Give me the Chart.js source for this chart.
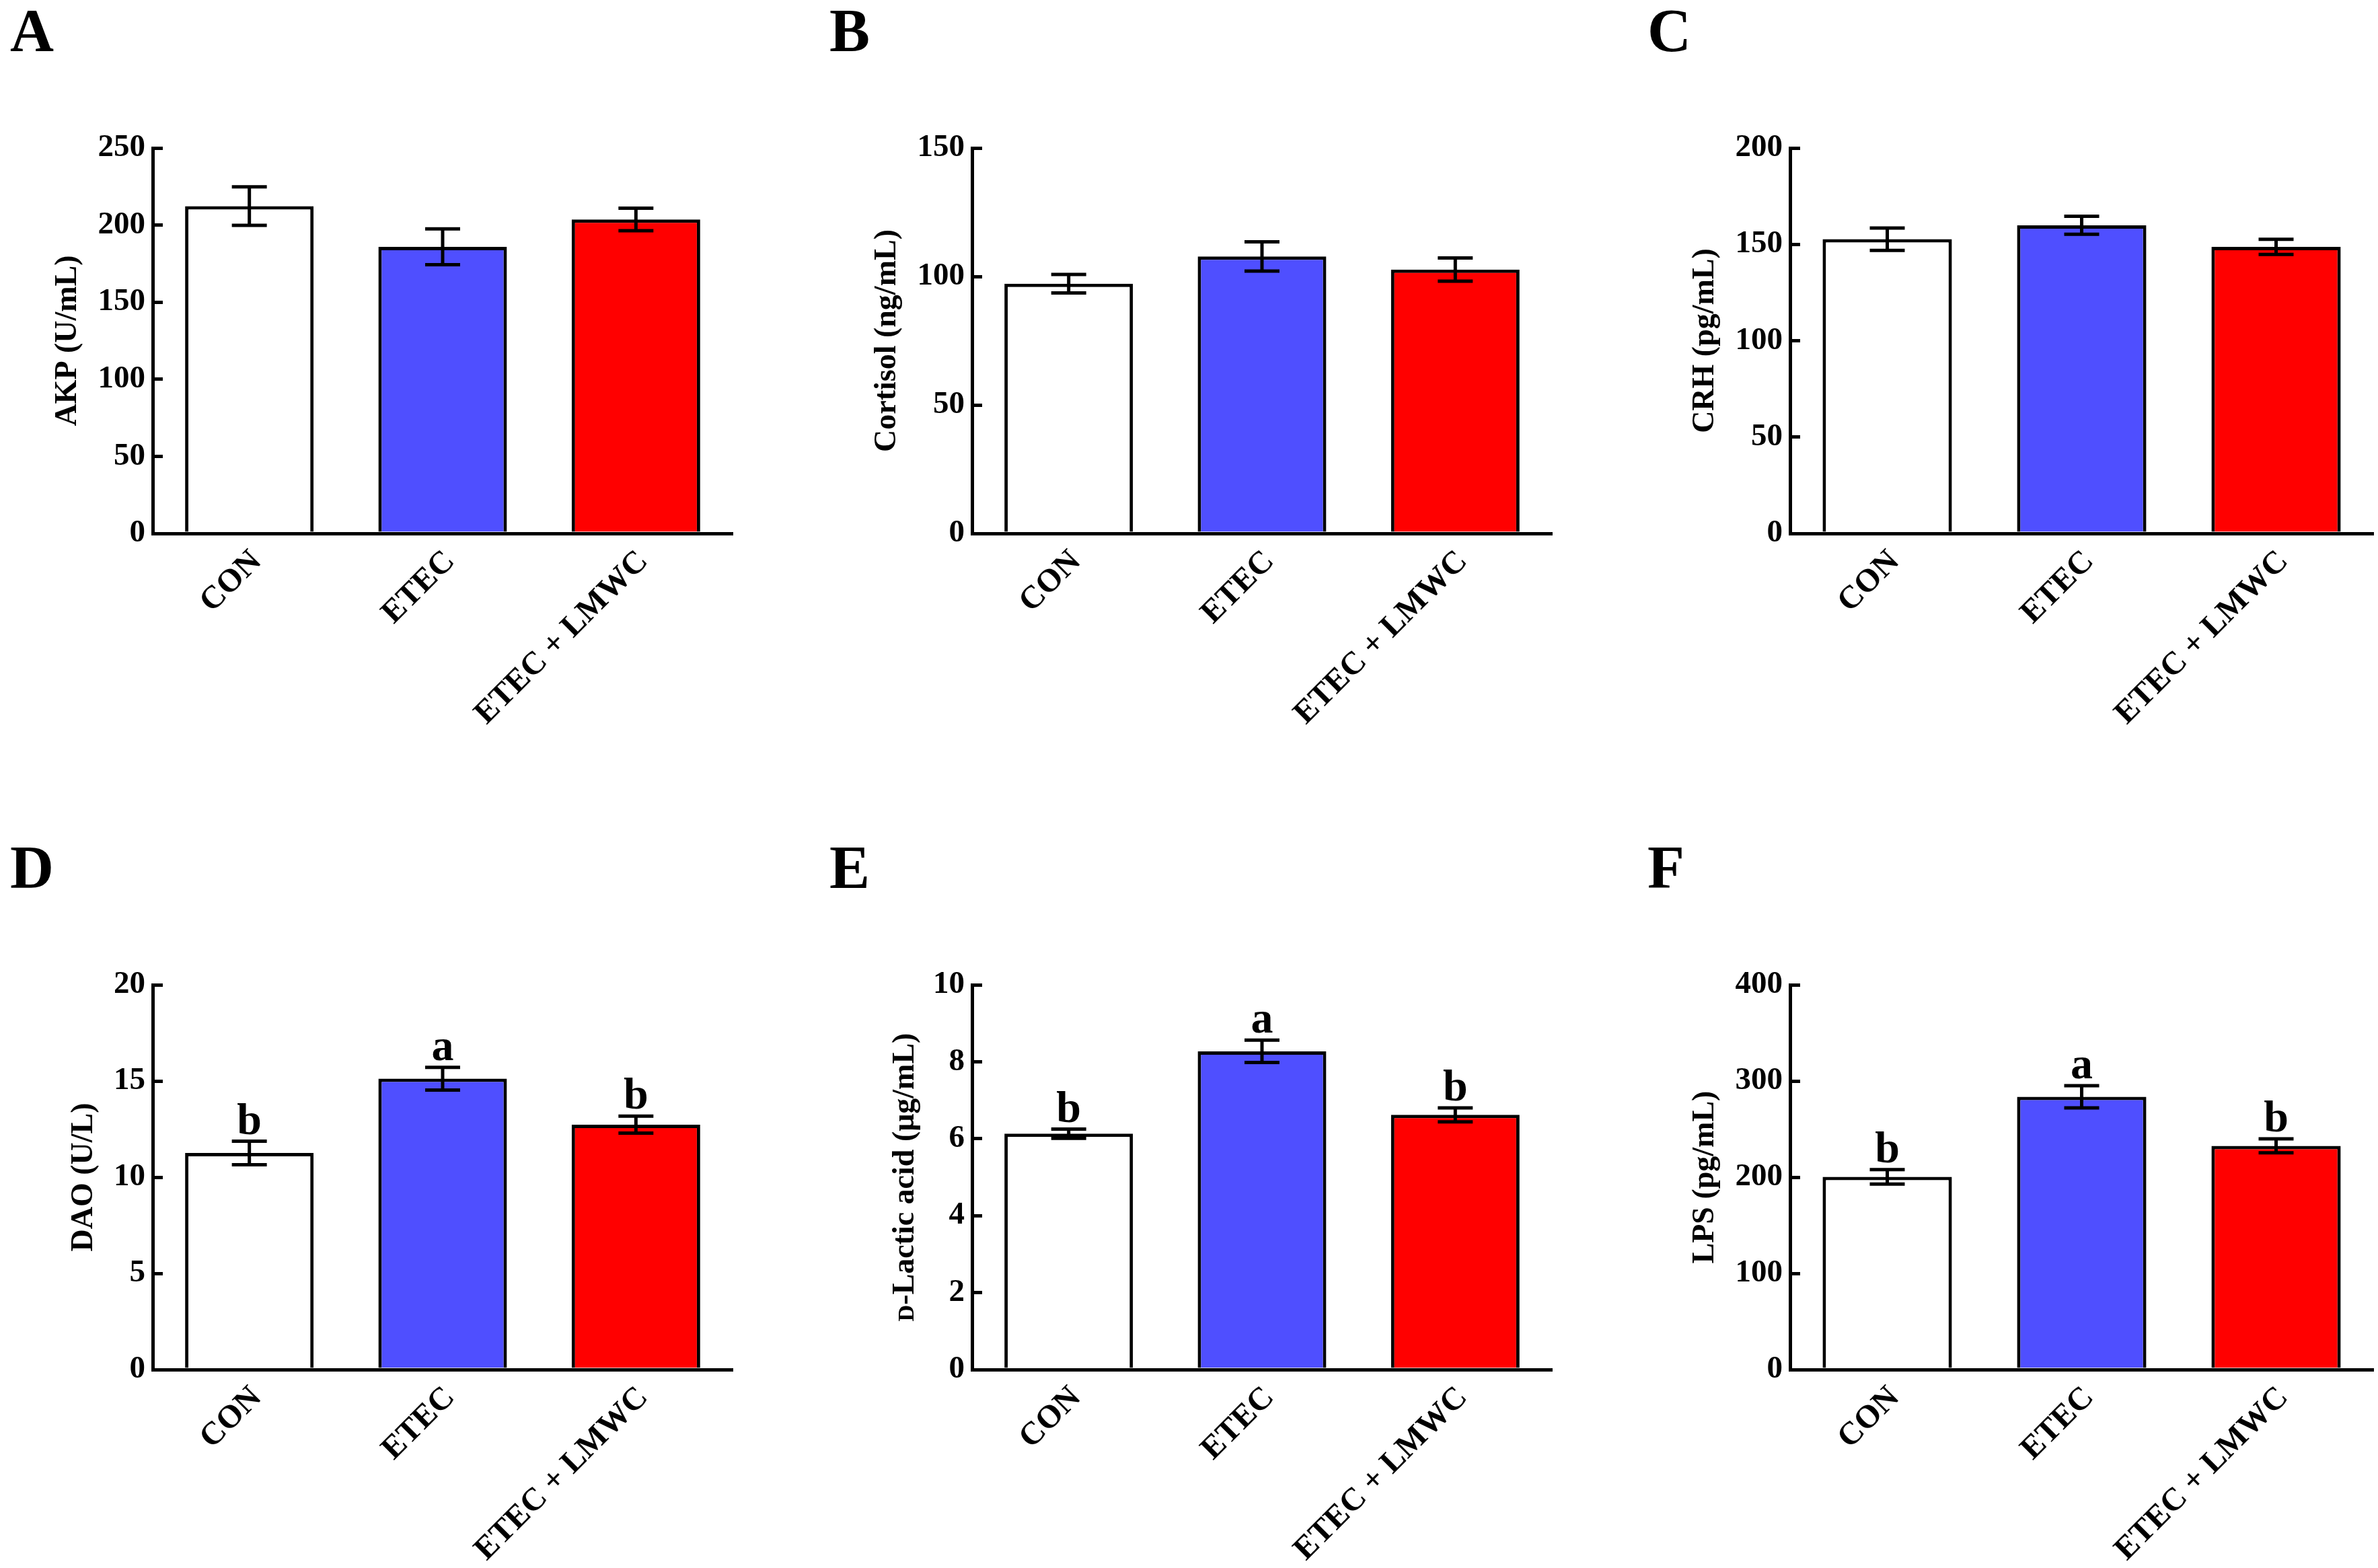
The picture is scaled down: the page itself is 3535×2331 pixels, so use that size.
<!DOCTYPE html>
<html>
<head>
<meta charset="utf-8">
<script src="https://cdn.jsdelivr.net/npm/chart.js@4.4.1/dist/chart.umd.min.js"></script>
<style>
    html, body { margin: 0; padding: 0; background: #fff; overflow: hidden; width: 3535px; height: 2331px; }
    canvas { position: absolute; }
</style>
</head>
<body>
<script>
// groups and read-off values (mean, SEM)
const groups = ['CON', 'ETEC', 'ETEC + LMWC'];
const barColors = ['#ffffff', '#4f4fff', '#ff0000'];

const akpMean = [212.3, 185.9, 203.6];
const akpSem = [12.5, 11.6, 7.3];

const cortisolMean = [97.2, 107.8, 102.7];
const cortisolSem = [3.6, 5.7, 4.5];

const crhMean = [152.7, 159.9, 148.7];
const crhSem = [5.8, 4.7, 3.9];

const daoMean = [11.26, 15.12, 12.73];
const daoSem = [0.61, 0.59, 0.44];
const daoLetters = ['b', 'a', 'b'];

const lacticMean = [6.13, 8.27, 6.62];
const lacticSem = [0.12, 0.29, 0.18];
const lacticLetters = ['b', 'a', 'b'];

const lpsMean = [200.4, 283.6, 232.6];
const lpsSem = [7.5, 11.5, 7.2];
const lpsLetters = ['b', 'a', 'b'];

const FONT = '"Liberation Serif", "Times New Roman", serif';

// panel layout (page px)
const colAxisX = [227, 1445, 2661];
const colPlotW = [862, 862, 867];
const rowAxisTop = [220, 1464];
const rowPlotH = [573, 572];
const Y_AXIS_W = 220;
const TOP_PAD = 215;
const CANVAS_H = 1080;

const panels = [
    { id: 'A', col: 0, row: 0, title: 'AKP (U/mL)', max: 250, step: 50, mean: akpMean, sem: akpSem, titleOff: 126 },
    { id: 'B', col: 1, row: 0, title: 'Cortisol (ng/mL)', max: 150, step: 50, mean: cortisolMean, sem: cortisolSem, titleOff: 126 },
    { id: 'C', col: 2, row: 0, title: 'CRH (pg/mL)', max: 200, step: 50, mean: crhMean, sem: crhSem, titleOff: 126 },
    { id: 'D', col: 0, row: 1, title: 'DAO (U/L)', max: 20, step: 5, mean: daoMean, sem: daoSem, letters: daoLetters, titleOff: 102 },
    { id: 'E', col: 1, row: 1, title: null, titleParts: [['D', 34], ['-Lactic acid (μg/mL)', 46]], max: 10, step: 2, mean: lacticMean, sem: lacticSem, letters: lacticLetters, titleOff: 102 },
    { id: 'F', col: 2, row: 1, title: 'LPS (pg/mL)', max: 400, step: 100, mean: lpsMean, sem: lpsSem, letters: lpsLetters, titleOff: 126 }
];

// error bars, significance letters, panel letter, custom axis title
const extrasPlugin = {
    id: 'extras',
    afterDatasetsDraw(chart, args, opts) {
        const ctx = chart.ctx;
        const xs = chart.scales.x;
        const ys = chart.scales.y;
        const area = chart.chartArea;

        ctx.save();
        ctx.strokeStyle = '#000';
        ctx.fillStyle = '#000';
        ctx.lineWidth = 5;

        opts.mean.forEach((m, i) => {
            const px = xs.getPixelForValue(i);
            const top = ys.getPixelForValue(m + opts.sem[i]);
            const bot = ys.getPixelForValue(m - opts.sem[i]);
            ctx.beginPath();
            ctx.moveTo(px, top);
            ctx.lineTo(px, bot);
            ctx.moveTo(px - 26, top);
            ctx.lineTo(px + 26, top);
            ctx.moveTo(px - 26, bot);
            ctx.lineTo(px + 26, bot);
            ctx.stroke();

            if (opts.letters) {
                ctx.font = `bold 66px ${FONT}`;
                ctx.textAlign = 'center';
                ctx.textBaseline = 'alphabetic';
                ctx.fillText(opts.letters[i], px, top - 11);
            }
        });

        ctx.font = `bold 90px ${FONT}`;
        ctx.textAlign = 'left';
        ctx.textBaseline = 'alphabetic';
        ctx.fillText(opts.panel, 8, 71);

        if (opts.titleParts) {
            const cx = area.left - opts.titleOff;
            const cy = (area.top + area.bottom) / 2;
            ctx.translate(cx, cy);
            ctx.rotate(-Math.PI / 2);
            let total = 0;
            opts.titleParts.forEach(([t, size]) => {
                ctx.font = `bold ${size}px ${FONT}`;
                total += ctx.measureText(t).width;
            });
            let tx = -total / 2;
            opts.titleParts.forEach(([t, size]) => {
                ctx.font = `bold ${size}px ${FONT}`;
                ctx.fillText(t, tx, 15);
                tx += ctx.measureText(t).width;
            });
        }
        ctx.restore();
    }
};

panels.forEach(p => {
    const canvas = document.createElement('canvas');
    const left = colAxisX[p.col] - Y_AXIS_W;
    const top = rowAxisTop[p.row] - TOP_PAD;
    const width = Y_AXIS_W + colPlotW[p.col] + 6;
    const xAxisH = CANVAS_H - TOP_PAD - rowPlotH[p.row];

    canvas.width = width;
    canvas.height = CANVAS_H;
    canvas.style.left = left + 'px';
    canvas.style.top = top + 'px';
    canvas.style.width = width + 'px';
    canvas.style.height = CANVAS_H + 'px';
    document.body.appendChild(canvas);

    const titlePad = Y_AXIS_W - p.titleOff - 46 * 1.2 / 2;

    new Chart(canvas.getContext('2d'), {
        type: 'bar',
        data: {
            labels: groups,
            datasets: [{
                data: p.mean,
                backgroundColor: barColors,
                borderColor: '#000',
                borderWidth: 5,
                categoryPercentage: 1,
                barPercentage: 0.665
            }]
        },
        options: {
            responsive: false,
            animation: false,
            devicePixelRatio: 1,
            layout: { padding: { top: TOP_PAD, left: 0, right: 6, bottom: 0 } },
            plugins: {
                legend: { display: false },
                tooltip: { enabled: false },
                extras: {
                    mean: p.mean,
                    sem: p.sem,
                    letters: p.letters || null,
                    panel: p.id,
                    titleParts: p.titleParts || null,
                    titleOff: p.titleOff
                }
            },
            scales: {
                x: {
                    offset: true,
                    grid: { display: false },
                    border: { display: true, color: '#000', width: 5 },
                    ticks: {
                        minRotation: 45,
                        maxRotation: 45,
                        autoSkip: false,
                        padding: 6,
                        labelOffset: 11,
                        color: '#000',
                        font: { family: FONT, size: 48, weight: 'bold' }
                    },
                    afterFit: s => { s.height = xAxisH; }
                },
                y: {
                    min: 0,
                    max: p.max,
                    ticks: {
                        stepSize: p.step,
                        padding: 26,
                        color: '#000',
                        font: { family: FONT, size: 47, weight: 'bold' }
                    },
                    grid: { drawOnChartArea: false, color: '#000', lineWidth: 5, tickLength: -15 },
                    border: { display: true, color: '#000', width: 5 },
                    title: {
                        display: !!p.title,
                        text: p.title || '',
                        color: '#000',
                        font: { family: FONT, size: 46, weight: 'bold' },
                        padding: { top: titlePad, bottom: 0 }
                    },
                    afterFit: s => { s.width = Y_AXIS_W; }
                }
            }
        },
        plugins: [extrasPlugin]
    });
});
</script>
</body>
</html>
